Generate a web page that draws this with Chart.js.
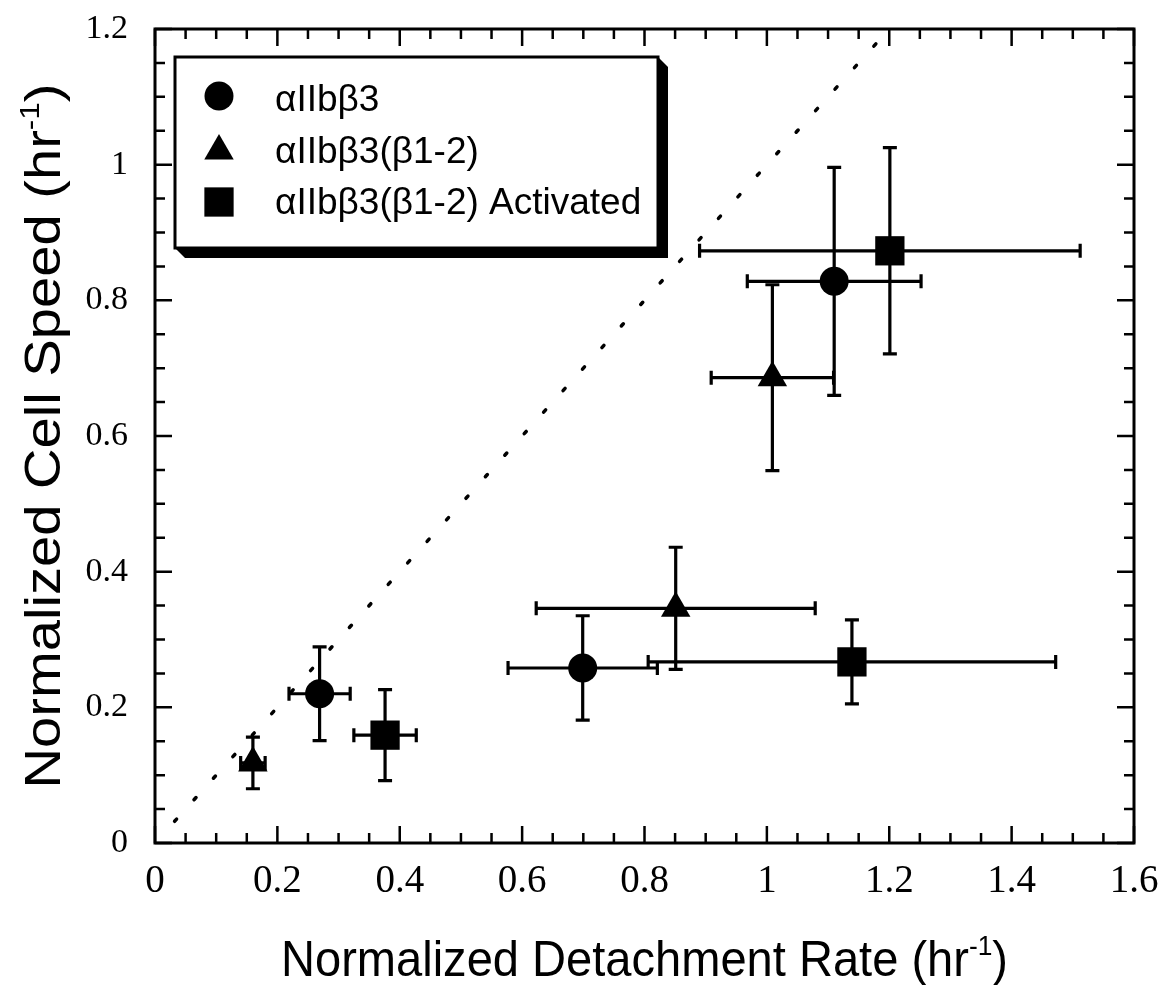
<!DOCTYPE html>
<html>
<head>
<meta charset="utf-8">
<script src="https://cdn.jsdelivr.net/npm/chart.js@4.4.1/dist/chart.umd.min.js"></script>
<style>
  html, body { margin: 0; padding: 0; background: #fff; }
  #wrap { width: 1162px; height: 985px; position: relative; }
</style>
</head>
<body>
<div id="wrap"><canvas id="chart"></canvas></div>
<script>
// series names (legend order)
const seriesNames = ['αIIbβ3', 'αIIbβ3(β1-2)', 'αIIbβ3(β1-2) Activated'];

// αIIbβ3 (circles)
const circleX = [0.269, 0.699, 1.110];
const circleY = [0.220, 0.258, 0.828];
const circleXErr = [0.050, 0.122, 0.142];
const circleYErr = [0.069, 0.077, 0.168];

// αIIbβ3(β1-2) (triangles)
const triX = [0.160, 0.851, 1.009];
const triY = [0.118, 0.346, 0.686];
const triXErr = [0.020, 0.228, 0.100];
const triYErr = [0.038, 0.090, 0.137];

// αIIbβ3(β1-2) Activated (squares)
const sqX = [0.376, 1.139, 1.201];
const sqY = [0.159, 0.267, 0.873];
const sqXErr = [0.051, 0.333, 0.311];
const sqYErr = [0.067, 0.062, 0.152];

// dotted reference line y = x
const diagX = [0.032, 1.18];
const diagY = [0.032, 1.18];

// axis ticks
const xTicks = [0, 0.2, 0.4, 0.6, 0.8, 1, 1.2, 1.4, 1.6];
const yTicks = [0, 0.2, 0.4, 0.6, 0.8, 1, 1.2];

const xTitle = ['Normalized Detachment Rate (hr', '-1', ')'];
const yTitle = ['Normalized Cell Speed (hr', '-1', ')'];

function pts(xs, ys) {
    return xs.map((x, i) => ({ x: x, y: ys[i] }));
}

function tickText(v) {
    return String(Number(v.toFixed(2)));
}

// error bars, drawn under the markers
const errorBars = {
    id: 'errorBars',
    beforeDatasetsDraw(chart) {
        const ctx = chart.ctx;
        const xs = chart.scales.x, ys = chart.scales.y;
        const cap = 7;
        ctx.save();
        ctx.strokeStyle = '#000';
        ctx.lineWidth = 3.2;
        chart.data.datasets.forEach(ds => {
            if (!ds.xErr) return;
            ds.data.forEach((p, i) => {
                const px = xs.getPixelForValue(p.x), py = ys.getPixelForValue(p.y);
                const x1 = xs.getPixelForValue(p.x - ds.xErr[i]);
                const x2 = xs.getPixelForValue(p.x + ds.xErr[i]);
                const y1 = ys.getPixelForValue(p.y - ds.yErr[i]);
                const y2 = ys.getPixelForValue(p.y + ds.yErr[i]);
                ctx.beginPath();
                ctx.moveTo(x1, py); ctx.lineTo(x2, py);
                ctx.moveTo(x1, py - cap); ctx.lineTo(x1, py + cap);
                ctx.moveTo(x2, py - cap); ctx.lineTo(x2, py + cap);
                ctx.moveTo(px, y1); ctx.lineTo(px, y2);
                ctx.moveTo(px - cap, y1); ctx.lineTo(px + cap, y1);
                ctx.moveTo(px - cap, y2); ctx.lineTo(px + cap, y2);
                ctx.stroke();
            });
        });
        ctx.restore();
    }
};

// frame with inward ticks on all four sides
const frame = {
    id: 'frame',
    afterDraw(chart) {
        const ctx = chart.ctx;
        const a = chart.chartArea;
        const xs = chart.scales.x, ys = chart.scales.y;
        ctx.save();
        ctx.strokeStyle = '#000';
        ctx.lineWidth = 2.5;
        ctx.beginPath();
        for (let i = 0; i <= 32; i++) {
            const px = xs.getPixelForValue(i * 0.05);
            const len = i % 4 === 0 ? 17 : 10;
            ctx.moveTo(px, a.bottom); ctx.lineTo(px, a.bottom - len);
            ctx.moveTo(px, a.top); ctx.lineTo(px, a.top + len);
        }
        for (let i = 0; i <= 24; i++) {
            const py = ys.getPixelForValue(i * 0.05);
            const len = i % 4 === 0 ? 17 : 10;
            ctx.moveTo(a.left, py); ctx.lineTo(a.left + len, py);
            ctx.moveTo(a.right, py); ctx.lineTo(a.right - len, py);
        }
        ctx.stroke();
        ctx.lineWidth = 3;
        ctx.strokeRect(a.left, a.top, a.right - a.left, a.bottom - a.top);
        ctx.restore();
    }
};

function drawSupTitle(ctx, parts, size, target, cx, cy, rot) {
    const big = size + 'px "Liberation Sans", Arial, sans-serif';
    const small = Math.round(size * 0.55) + 'px "Liberation Sans", Arial, sans-serif';
    ctx.font = big;
    const w0 = ctx.measureText(parts[0]).width;
    const w2 = ctx.measureText(parts[2]).width;
    ctx.font = small;
    const w1 = ctx.measureText(parts[1]).width;
    const w = w0 + w1 + w2;
    ctx.save();
    ctx.translate(cx, cy);
    ctx.rotate(rot);
    ctx.scale(target / w, 1);
    ctx.fillStyle = '#000';
    ctx.textBaseline = 'alphabetic';
    ctx.textAlign = 'left';
    const base = size * 0.36;
    ctx.font = big;
    ctx.fillText(parts[0], -w / 2, base);
    ctx.font = small;
    ctx.fillText(parts[1], -w / 2 + w0, base - size * 0.42);
    ctx.font = big;
    ctx.fillText(parts[2], -w / 2 + w0 + w1, base);
    ctx.restore();
}

const axisTitles = {
    id: 'axisTitles',
    afterDraw(chart) {
        const ctx = chart.ctx;
        const a = chart.chartArea;
        drawSupTitle(ctx, xTitle, 50, 727, (a.left + a.right) / 2, 958, 0);
        drawSupTitle(ctx, yTitle, 50, 705, 42, (a.top + a.bottom) / 2, -Math.PI / 2);
    }
};

// boxed legend with a black drop shadow
const boxLegend = {
    id: 'boxLegend',
    afterDraw(chart) {
        const ctx = chart.ctx;
        const L = 175, T = 57, R = 658, B = 248, off = 10;
        ctx.save();
        ctx.fillStyle = '#000';
        ctx.beginPath();
        ctx.moveTo(R, T);
        ctx.lineTo(R + off, T + off);
        ctx.lineTo(R + off, B + off);
        ctx.lineTo(L + off, B + off);
        ctx.lineTo(L, B);
        ctx.closePath();
        ctx.fill();
        ctx.fillStyle = '#fff';
        ctx.fillRect(L, T, R - L, B - T);
        ctx.strokeStyle = '#000';
        ctx.lineWidth = 3;
        ctx.strokeRect(L, T, R - L, B - T);

        const rowsY = [96, 151, 202];
        const baseY = [111, 163, 214];
        chart.data.datasets.forEach((ds, i) => {
            if (!ds.xErr) return;
            ctx.fillStyle = '#000';
            ctx.strokeStyle = '#000';
            Chart.helpers.drawPoint(ctx, { pointStyle: ds.pointStyle, radius: ds.pointRadius, rotation: 0, borderWidth: 0 }, 219, rowsY[i]);
            ctx.fillStyle = '#000';
            ctx.font = '37px "Liberation Sans", Arial, sans-serif';
            ctx.textAlign = 'left';
            ctx.textBaseline = 'alphabetic';
            ctx.fillText(ds.label, 275, baseY[i]);
        });
        ctx.restore();
    }
};

const markerStyle = {
    backgroundColor: '#000',
    borderColor: '#000',
    borderWidth: 0,
    showLine: false
};

new Chart(document.getElementById('chart'), {
    type: 'scatter',
    data: {
        datasets: [
            Object.assign({ label: seriesNames[0], data: pts(circleX, circleY), pointStyle: 'circle', pointRadius: 14.5, xErr: circleXErr, yErr: circleYErr }, markerStyle),
            Object.assign({ label: seriesNames[1], data: pts(triX, triY), pointStyle: 'triangle', pointRadius: 17, xErr: triXErr, yErr: triYErr }, markerStyle),
            Object.assign({ label: seriesNames[2], data: pts(sqX, sqY), pointStyle: 'rect', pointRadius: 20.7, xErr: sqXErr, yErr: sqYErr }, markerStyle),
            {
                type: 'line',
                label: 'y = x',
                data: pts(diagX, diagY),
                borderColor: '#000',
                borderWidth: 3.5,
                borderDash: [3, 26],
                borderCapStyle: 'round',
                pointRadius: 0,
                fill: false
            }
        ]
    },
    options: {
        responsive: true,
        maintainAspectRatio: false,
        devicePixelRatio: 1,
        animation: false,
        layout: { padding: { top: 29, right: 28, left: 0, bottom: 0 } },
        plugins: {
            legend: { display: false },
            tooltip: { enabled: false }
        },
        scales: {
            x: {
                type: 'linear',
                min: 0,
                max: 1.6,
                afterBuildTicks(s) { s.ticks = xTicks.map(v => ({ value: v })); },
                afterFit(s) { s.height = 142; s.paddingLeft = 0; s.paddingRight = 0; },
                ticks: {
                    color: '#000',
                    padding: 15,
                    maxRotation: 0,
                    callback: tickText,
                    font: { family: '"Liberation Serif", "Times New Roman", serif', size: 39 }
                },
                grid: { display: false, drawTicks: false },
                border: { display: false }
            },
            y: {
                type: 'linear',
                min: 0,
                max: 1.2,
                afterBuildTicks(s) { s.ticks = yTicks.map(v => ({ value: v })); },
                afterFit(s) { s.width = 155; s.paddingTop = 0; s.paddingBottom = 0; },
                ticks: {
                    color: '#000',
                    padding: 27,
                    callback: tickText,
                    font: { family: '"Liberation Serif", "Times New Roman", serif', size: 34 }
                },
                grid: { display: false, drawTicks: false },
                border: { display: false }
            }
        }
    },
    plugins: [errorBars, frame, axisTitles, boxLegend]
});
</script>
</body>
</html>
